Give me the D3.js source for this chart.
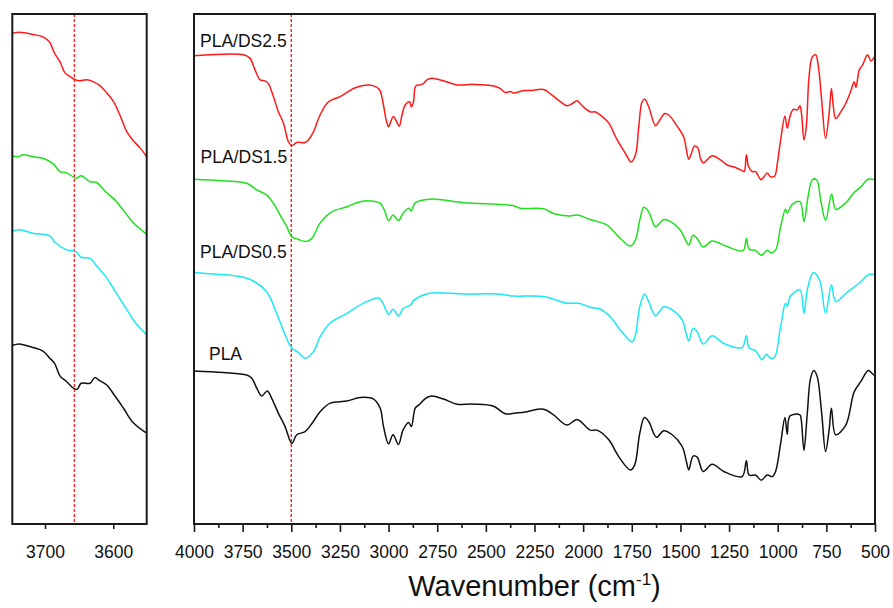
<!DOCTYPE html>
<html>
<head>
<meta charset="utf-8">
<script src="https://cdn.jsdelivr.net/npm/d3@7"></script>
<style>
  html, body { margin: 0; padding: 0; background: #fff; }
  svg { display: block; font-family: "Liberation Sans", Arial, sans-serif; }
</style>
</head>
<body>
<svg id="chart" width="893" height="608"></svg>
<script>
// FTIR spectra of PLA and PLA/DS films, transmittance in arbitrary units (stacked)
// Each series: [wavenumber (cm-1), transmittance a.u.]

const seriesNames = ["PLA/DS2.5", "PLA/DS1.5", "PLA/DS0.5", "PLA"];
const seriesColors = ["#ff1a1a", "#1fe01f", "#1ae8f2", "#111111"];

const mainDS25 = [
  [4000,91.8],[3746,92.0],[3712,91.3],[3686,89.0],[3660,87.1],[3635,86.9],[3618,86.4],
  [3592,83.8],[3566,80.8],[3540,78.6],[3515,75.0],[3497,74.2],[3472,74.8],[3429,74.8],
  [3412,75.3],[3386,76.9],[3352,80.2],[3309,82.8],[3249,83.8],[3180,85.4],[3129,86.0],
  [3077,85.9],[3046,85.1],[3029,82.7],[3012,79.2],[3000,77.9],[2987,79.1],[2975,79.9],
  [2961,79.1],[2945,78.0],[2931,80.2],[2914,82.2],[2892,82.8],[2883,81.8],[2872,82.8],
  [2860,85.9],[2837,86.1],[2820,86.4],[2803,87.1],[2777,87.4],[2718,86.9],[2649,86.1],
  [2563,86.2],[2460,85.9],[2427,85.4],[2400,84.6],[2374,84.8],[2357,84.5],[2306,85.0],
  [2271,85.0],[2203,85.2],[2160,84.1],[2117,82.8],[2083,82.0],[2057,82.4],[2031,83.0],
  [2005,82.0],[1963,80.8],[1937,80.8],[1902,79.9],[1868,78.6],[1825,75.3],[1783,72.7],
  [1753,71.0],[1731,72.4],[1714,77.9],[1697,82.8],[1683,83.3],[1663,81.8],[1628,78.1],
  [1611,78.9],[1580,80.5],[1560,80.2],[1517,78.0],[1483,75.9],[1469,73.3],[1457,71.5],
  [1445,72.5],[1428,74.1],[1410,73.7],[1397,71.7],[1383,70.8],[1363,71.4],[1337,72.2],
  [1294,71.4],[1260,70.4],[1217,69.9],[1183,69.3],[1172,69.1],[1161,72.4],[1150,70.1],
  [1131,69.1],[1114,69.1],[1102,68.4],[1085,67.5],[1071,68.1],[1054,68.8],[1037,68.1],
  [1016,68.2],[1002,70.7],[985,75.3],[963,80.0],[951,77.6],[937,79.9],[920,81.3],
  [899,81.2],[886,82.0],[877,80.2],[865,75.3],[853,77.9],[839,87.7],[822,91.6],
  [805,92.0],[791,89.7],[774,83.1],[754,75.6],[736,80.5],[724,85.4],[714,81.8],
  [702,79.5],[676,80.8],[650,82.5],[625,84.8],[607,86.7],[598,85.6],[581,89.0],
  [564,90.0],[538,92.0],[521,90.8],[507,91.3],[500,91.8]
];

const mainDS15 = [
  [4000,67.6],[3849,67.3],[3729,66.8],[3677,65.5],[3626,64.5],[3592,62.9],[3558,60.6],
  [3523,58.3],[3497,56.3],[3463,55.8],[3424,55.4],[3394,56.0],[3352,59.0],[3292,61.2],
  [3214,62.2],[3146,63.2],[3077,63.3],[3043,62.9],[3022,61.6],[3000,59.5],[2977,60.6],
  [2949,59.5],[2926,60.9],[2897,61.9],[2883,61.4],[2863,63.0],[2786,63.7],[2614,63.0],
  [2357,62.4],[2323,61.9],[2203,61.8],[2152,60.9],[2074,60.4],[2031,60.6],[1963,59.7],
  [1877,58.6],[1817,56.3],[1757,54.5],[1731,55.7],[1709,59.6],[1688,62.1],[1663,61.2],
  [1628,58.3],[1586,59.7],[1551,59.3],[1500,57.6],[1474,55.7],[1457,54.7],[1435,56.6],
  [1414,56.0],[1383,54.3],[1337,55.5],[1260,54.4],[1178,53.6],[1161,56.0],[1147,53.9],
  [1114,53.6],[1083,52.7],[1054,53.7],[1037,53.2],[1011,53.7],[985,58.3],[960,61.7],
  [951,61.0],[925,62.7],[886,63.2],[865,59.3],[844,64.2],[822,67.5],[800,67.5],
  [779,63.5],[754,59.5],[723,64.7],[702,61.7],[650,63.0],[607,65.0],[573,66.1],
  [535,67.6],[500,67.5]
];

const mainDS05 = [
  [4000,49.3],[3900,49.0],[3780,48.6],[3703,47.8],[3626,45.5],[3575,41.3],[3532,37.1],
  [3497,34.5],[3463,33.6],[3429,32.5],[3386,33.8],[3352,36.7],[3300,39.4],[3214,41.3],
  [3129,43.3],[3051,44.3],[3029,43.3],[3000,41.1],[2977,42.1],[2949,40.8],[2924,42.3],
  [2889,42.9],[2872,43.8],[2795,45.2],[2614,45.1],[2443,45.1],[2357,44.7],[2203,44.6],
  [2083,43.3],[2023,43.3],[1963,42.5],[1911,42.1],[1860,40.6],[1808,38.0],[1748,35.7],
  [1731,37.1],[1709,42.6],[1685,45.1],[1663,43.6],[1628,40.8],[1586,42.6],[1542,42.0],
  [1491,40.0],[1469,37.1],[1457,35.9],[1435,38.4],[1414,37.7],[1383,35.3],[1337,36.9],
  [1277,35.4],[1183,34.6],[1161,36.9],[1147,34.5],[1114,34.0],[1080,32.2],[1058,33.3],
  [1037,32.5],[1016,32.7],[988,38.0],[960,43.3],[951,42.7],[934,44.7],[886,45.9],
  [865,41.3],[848,45.9],[817,49.3],[785,47.8],[754,41.3],[724,46.9],[702,43.6],
  [650,45.2],[573,47.5],[538,48.8],[500,49.0]
];

const mainPLA = [
  [4000,30.0],[3849,29.7],[3729,29.2],[3703,28.6],[3677,26.6],[3652,25.1],[3623,26.1],
  [3600,24.6],[3566,21.7],[3532,19.1],[3497,15.8],[3472,17.5],[3429,18.1],[3394,19.7],
  [3352,22.0],[3300,23.7],[3214,24.1],[3146,24.8],[3077,24.5],[3043,22.7],[3026,19.1],
  [3000,15.7],[2977,17.5],[2949,15.6],[2926,18.4],[2897,19.9],[2883,19.1],[2863,22.7],
  [2846,23.3],[2803,24.8],[2777,25.1],[2718,24.5],[2649,23.5],[2563,23.5],[2460,23.1],
  [2400,21.6],[2357,21.7],[2288,22.0],[2271,22.2],[2203,22.5],[2152,21.4],[2083,19.4],
  [2031,20.5],[1963,18.4],[1929,18.4],[1868,16.5],[1817,13.2],[1757,10.6],[1735,11.6],
  [1709,17.8],[1685,20.9],[1663,20.1],[1623,17.0],[1586,18.3],[1542,17.5],[1491,15.2],
  [1469,12.2],[1457,10.6],[1435,13.3],[1414,13.1],[1383,10.3],[1337,11.7],[1277,10.3],
  [1183,9.3],[1161,12.4],[1147,9.6],[1114,9.6],[1085,8.6],[1054,9.6],[1028,9.3],
  [1011,10.3],[985,15.8],[963,20.9],[951,17.6],[937,21.2],[886,21.4],[879,20.4],
  [865,14.4],[848,21.7],[831,28.6],[814,30.1],[797,28.9],[774,21.7],[754,14.2],
  [736,18.4],[724,22.7],[702,17.5],[650,19.4],[607,25.9],[573,27.9],[534,30.1],
  [505,29.2],[500,29.4]
];

// O-H region detail, 3748-3551 cm-1
const insetDS25 = [
  [3748,96.2],[3738,96.4],[3718,96.0],[3703,95.5],[3693,94.4],[3686,92.3],[3678,90.6],
  [3671,88.5],[3664,87.8],[3656,87.1],[3649,86.9],[3639,87.1],[3629,86.7],[3620,86.0],
  [3610,84.6],[3600,82.9],[3590,80.1],[3580,76.9],[3571,75.2],[3561,73.8],[3551,72.0]
];
const insetDS15 = [
  [3748,72.2],[3740,72.0],[3732,72.4],[3718,72.0],[3703,71.7],[3688,70.6],[3678,69.1],
  [3669,68.9],[3654,67.8],[3647,68.3],[3634,67.1],[3625,67.0],[3610,65.0],[3598,63.6],
  [3585,61.5],[3571,59.1],[3551,56.8]
];
const insetDS05 = [
  [3748,57.4],[3738,57.7],[3718,57.0],[3693,56.5],[3686,55.3],[3669,53.8],[3654,53.3],
  [3647,52.3],[3634,52.1],[3625,50.7],[3610,48.3],[3598,45.8],[3580,42.0],[3566,39.2],
  [3551,37.1]
];
const insetPLA = [
  [3748,35.0],[3738,35.3],[3718,34.6],[3703,33.9],[3693,32.5],[3686,31.5],[3678,29.0],
  [3669,28.0],[3659,26.7],[3653,26.4],[3647,27.6],[3634,27.6],[3627,28.7],[3620,28.1],
  [3610,27.3],[3598,25.2],[3585,22.7],[3571,19.9],[3551,17.8]
];

const mainTicks = [4000, 3750, 3500, 3250, 3000, 2750, 2500, 2250, 2000, 1750, 1500, 1250, 1000, 750, 500];
const mainMinorTicks = [3875, 3625, 3375, 3125, 2875, 2625, 2375, 2125, 1875, 1625, 1375, 1125, 875, 625];
const insetTicks = [3700, 3600];
const markerMain = 3500;
const markerInset = 3657;
// label anchor (wavenumber, transmittance a.u.) at the text baseline start
const labelAnchors = [[3969, 93.6], [3966, 70.7], [3969, 52.1], [3923, 32.2]];

const svg = d3.select("#chart");

const frameTop = 14, frameBottom = 524;
const y = d3.scaleLinear().domain([0, 100]).range([frameBottom, frameTop]);
const xMain = d3.scaleLinear().domain([4000, 500]).range([194, 875]);
const xInset = d3.scaleLinear().domain([3748, 3551]).range([12.3, 146.7]);

function drawPanel(x, sets, ticks, minor, majorLen, marker) {
  const g = svg.append("g");
  const [x0, x1] = x.range();

  // red dashed reference line
  g.append("line")
    .attr("x1", x(marker)).attr("x2", x(marker))
    .attr("y1", frameTop).attr("y2", frameBottom)
    .attr("stroke", "#ff2020").attr("stroke-width", 1.4)
    .attr("stroke-dasharray", "3,2");

  const line = d3.line()
    .x(d => x(d[0])).y(d => y(d[1]))
    .curve(d3.curveCatmullRom.alpha(0.5));

  sets.forEach((s, i) => {
    g.append("path")
      .datum(s)
      .attr("d", line)
      .attr("fill", "none")
      .attr("stroke", seriesColors[i])
      .attr("stroke-width", 1.5)
      .attr("stroke-linejoin", "round");
  });

  // bottom axis
  const ax = g.append("g").attr("transform", `translate(0,${frameBottom})`);
  ax.call(d3.axisBottom(x).tickValues(ticks).tickSize(majorLen).tickPadding(22 - majorLen).tickFormat(d3.format("d")));
  if (minor.length) {
    const mx = g.append("g").attr("transform", `translate(0,${frameBottom})`);
    mx.call(d3.axisBottom(x).tickValues(minor).tickSize(4).tickFormat(""));
    mx.select(".domain").remove();
    mx.selectAll("line").attr("stroke", "#1a1a1a").attr("stroke-width", 1.6);
  }
  ax.select(".domain").remove();
  ax.selectAll("line").attr("stroke", "#1a1a1a").attr("stroke-width", 1.6);
  ax.selectAll("text")
    .attr("font-family", "'Liberation Sans', Arial, sans-serif")
    .attr("font-size", 17.5)
    .attr("fill", "#111");

  // frame
  g.append("rect")
    .attr("x", x0).attr("y", frameTop)
    .attr("width", x1 - x0).attr("height", frameBottom - frameTop)
    .attr("fill", "none").attr("stroke", "#1a1a1a").attr("stroke-width", 2);
}

drawPanel(xInset, [insetDS25, insetDS15, insetDS05, insetPLA], insetTicks, [], 5, markerInset);
drawPanel(xMain, [mainDS25, mainDS15, mainDS05, mainPLA], mainTicks, mainMinorTicks, 8, markerMain);

// sample labels
svg.append("g").selectAll("text")
  .data(seriesNames)
  .join("text")
  .attr("x", (d, i) => xMain(labelAnchors[i][0]))
  .attr("y", (d, i) => y(labelAnchors[i][1]))
  .attr("font-size", 17.5)
  .attr("fill", "#111")
  .text(d => d);

// x-axis title
const title = svg.append("text")
  .attr("x", (xMain.range()[0] + xMain.range()[1]) / 2)
  .attr("y", 596)
  .attr("text-anchor", "middle")
  .attr("font-size", 29)
  .attr("fill", "#111");
title.append("tspan").text("Wavenumber (cm");
title.append("tspan").attr("font-size", 17).attr("dy", -11).text("-1");
title.append("tspan").attr("dy", 11).text(")");
</script>
</body>
</html>
